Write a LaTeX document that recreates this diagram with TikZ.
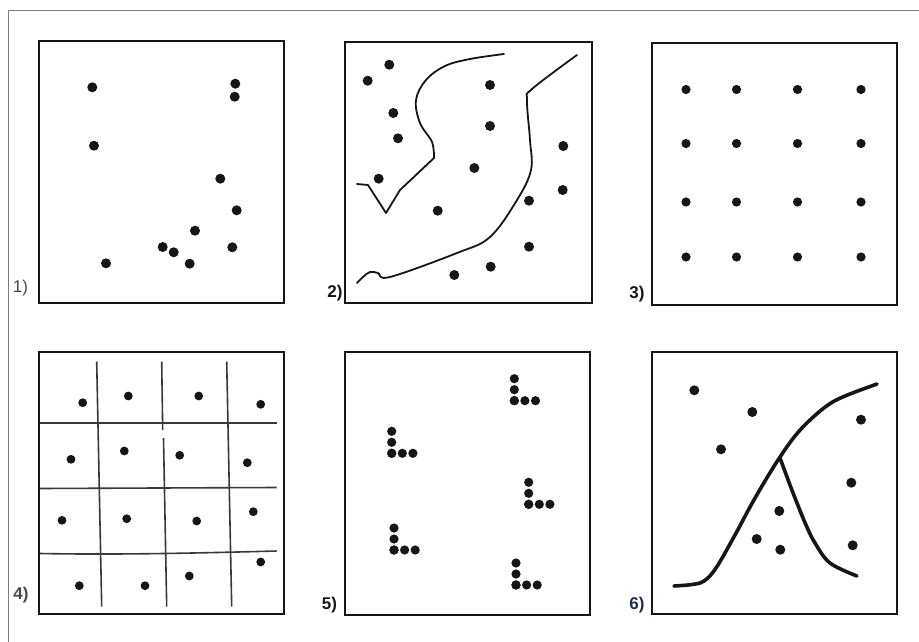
\documentclass[tikz,border=0pt]{standalone}
\usepackage{fontspec}
\setmainfont{Liberation Sans}
\usetikzlibrary{positioning}
\definecolor{ink}{HTML}{161616}
\definecolor{rule}{HTML}{7C7C7C}
\definecolor{smudge}{HTML}{4A4A4A}
\definecolor{navyink}{HTML}{1E2F4F}
\newcommand{\spot}[3][5pt]{\fill[dot] (#2,#3) circle[radius=#1];}
\newcommand{\lcluster}[2]{\foreach \k in {0,1,2}{\fill[dot] (#1,#2-11*\k) circle[radius=4.6pt]; \fill[dot] (#1+10.6*\k,#2) circle[radius=4.6pt];}}
\tikzset{
  panel/.style={rectangle, draw=ink, line width=2.6pt, minimum width=245pt, minimum height=262pt, inner sep=0pt},
  dot/.style={fill=ink},
  border/.style={draw=rule, line width=1.4pt},
  cell/.style={draw=ink!85, line width=1.6pt},
  trail/.style={draw=ink, line width=1.8pt, line cap=round, line join=round},
  ridge/.style={draw=ink, line width=3.6pt, line cap=round, line join=round},
  tag/.style={font=\fontsize{17}{17}\selectfont\bfseries, text=ink, inner sep=0pt}
}

\begin{document}
\begin{tikzpicture}[x=1pt, y=-1pt]
 \useasboundingbox (0,0) rectangle (919,642);
 \draw[border] (8.3,642) -- (8.3,10.7) -- (919,10.7);

 % the six panels
 \node[panel] (p1) at (161.5,172) {};
 \node[panel, minimum width=247pt, minimum height=261pt] (p2) at (468.5,172.5) {};
 \node[panel] (p3) at (774.5,174) {};
 \node[panel] (p4) at (161.5,483) {};
 \node[panel, minimum height=263pt] (p5) at (467.5,483.5) {};
 \node[panel] (p6) at (774.5,483) {};

 \node[tag, font=\fontsize{17}{17}\selectfont, text=smudge] (t1) at (20.5,288) {1)};
 \node[tag] (t2) at (335,293.5) {2)};
 \node[tag] (t3) at (637,294.5) {3)};
 \node[tag, text=smudge] (t4) at (21,595) {4)};
 \node[tag] (t5) at (329.5,605) {5)};
 \node[tag, text=navyink] (t6) at (637,605) {6)};

 % 1) random
 \foreach \x/\y in {92.3/87.3, 235.3/83.7, 234.7/96.7, 94/145.7, 220.3/178.7, 236.7/210.3,
   195/230.7, 162.7/247, 173.7/252.3, 232.3/247.3, 189.7/263.7, 106/263.3}
   {\spot{\x}{\y}}

 % 2) dots split by two lines
 \foreach \x/\y in {389.3/64.7, 367.7/80.7, 490/85, 393.3/113, 490/126, 398/138.3, 563.3/146,
   474.3/168, 378.7/178.7, 562.7/190, 529/200.7, 437.7/210.7, 529/246.7, 490.7/266.7, 454.3/275}
   {\spot{\x}{\y}}
 \draw[trail] plot[smooth, tension=0.6] coordinates {(504,54) (470,59) (445,66) (426,80) (416,100) (420,123) (432,142) (434,158)}
   -- (400,190) -- (386,213) -- (368,185) -- (357,184);
 \draw[trail] plot[smooth, tension=0.6] coordinates {(577,55) (532,89) (527,100) (530,140) (531,170) (517,200)
   (490,237) (457,253) (390,277) (378,273) (370,272) (363,277) (357,283)};

 % 3) regular
 \foreach \x in {686,736.5,797.5,861}
   \foreach \y in {89.5,143.5,202,257}
     {\spot[4.6pt]{\x}{\y}}

 % 4) stratified grid
 \draw[cell] (96.7,361.7) -- (101.7,606.7);
 \draw[cell] (161.7,361.7) -- (162.7,430);
 \draw[cell] (163.5,438) -- (166.7,606.7);
 \draw[cell] (226.7,361.7) -- (231.7,606.7);
 \draw[cell] (40,422.7) -- (276.7,422.7);
 \draw[cell] (40,488.5) -- (276.7,487.5);
 \draw[cell] (40,553.5) .. controls (120,555) and (200,553) .. (276.7,551);
 \foreach \x/\y in {82.7/402.7, 128.3/396, 198.7/396, 260.7/404.3, 71/459.3, 124.3/451, 179.7/455.3,
   247.3/462.7, 62/520.3, 126.7/518.7, 196.7/521, 253.3/511.7, 79.3/585.7, 145/585.7, 189.3/576, 260.7/562}
   {\spot[4.4pt]{\x}{\y}}

 % 5) clustered
 \lcluster{514.3}{400.7}
 \lcluster{391.7}{453.3}
 \lcluster{528.7}{504.3}
 \lcluster{394}{550}
 \lcluster{516}{585}

 % 6) regions
 \foreach \x/\y in {694.3/390.3, 752.3/412, 861/419.7, 721/449.3, 851.3/482.7, 779.3/511,
   756.7/539, 780.3/549.7, 852.7/545.3}
   {\spot{\x}{\y}}
 \draw[ridge] plot[smooth, tension=0.6] coordinates {(674,586) (692,584.5) (704,581) (716,568) (735,535) (750,507)
   (765,481) (780,457) (795,436) (810,420) (828,405) (845,396) (877,384)};
 \draw[ridge] plot[smooth, tension=0.6] coordinates {(780,458) (790,485) (797,503) (806,525) (815,543) (830,563) (857,576)};
\end{tikzpicture}
\end{document}
